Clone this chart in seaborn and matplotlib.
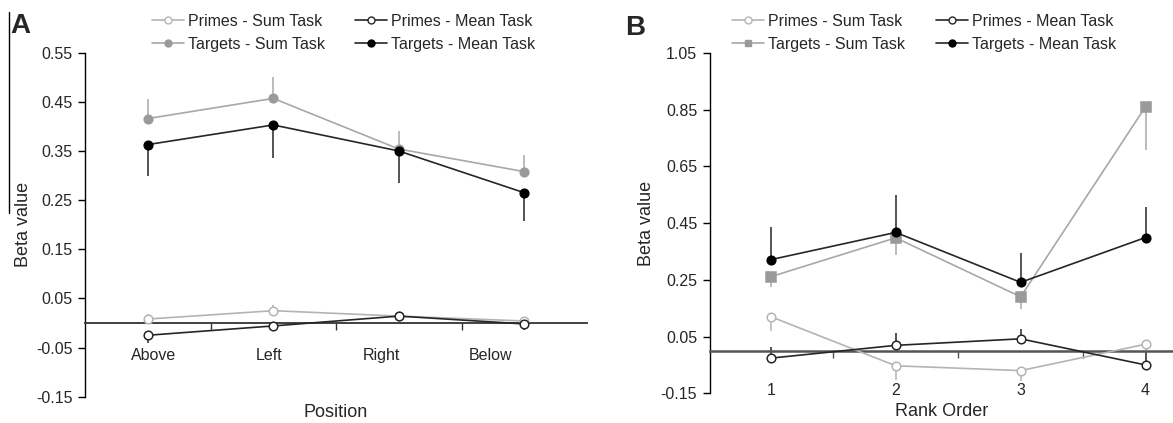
import matplotlib
matplotlib.use("Agg")
import matplotlib.pyplot as plt
import numpy as np
import seaborn as sns
from matplotlib.lines import Line2D

# panel A: beta values by position
positions = ["Above", "Left", "Right", "Below"]
a_primes_sum = [0.008, 0.025, 0.014, 0.004]
a_primes_sum_err = [0.010, 0.012, 0.004, 0.006]      # drawn upward
a_primes_mean = [-0.025, -0.006, 0.014, -0.002]
a_primes_mean_err = [0.016, 0.004, 0.004, 0.012]     # drawn downward
a_targets_sum = [0.416, 0.457, 0.354, 0.308]
a_targets_sum_err = [0.040, 0.044, 0.037, 0.033]     # drawn upward
a_targets_mean = [0.363, 0.403, 0.350, 0.265]
a_targets_mean_err = [0.064, 0.068, 0.065, 0.057]    # drawn downward

# panel B: beta values by rank order
ranks = ["1", "2", "3", "4"]
b_primes_sum = [0.120, -0.053, -0.070, 0.023]
b_primes_sum_err = [0.050, 0.050, 0.036, 0.020]      # drawn downward
b_primes_mean = [-0.026, 0.019, 0.042, -0.050]
b_primes_mean_err = [0.038, 0.042, 0.033, 0.050]     # drawn upward
b_targets_sum = [0.261, 0.398, 0.190, 0.860]
b_targets_sum_err = [0.038, 0.061, 0.043, 0.153]     # drawn downward
b_targets_mean = [0.321, 0.417, 0.241, 0.399]
b_targets_mean_err = [0.114, 0.132, 0.104, 0.108]    # drawn upward

a_yticks = [-0.15, -0.05, 0.05, 0.15, 0.25, 0.35, 0.45, 0.55]
b_yticks = [-0.15, 0.05, 0.25, 0.45, 0.65, 0.85, 1.05]

sns.set_style("ticks")
plt.rcParams["font.family"] = ["Liberation Sans", "DejaVu Sans"]
plt.rcParams["axes.unicode_minus"] = False

FS = 11.5
LIGHT = "#b4b4b4"
MID = "#9a9a9a"
DARK = "#262626"

fig = plt.figure(figsize=(11.73, 4.23), dpi=100)
ax_a = fig.add_axes([0.0725, 0.0622, 0.428, 0.8132])
ax_b = fig.add_axes([0.605, 0.0702, 0.395, 0.805])


def draw_series(ax, vals, err, up, name, line_c, edge_c, face_c, marker):
    x = np.arange(len(vals))
    ms = 6.5 if marker == "s" else 6.2
    sns.lineplot(x=x, y=vals, ax=ax, color=line_c, linewidth=1.2, marker=marker,
                 markersize=ms, markeredgecolor=edge_c, markerfacecolor=face_c,
                 markeredgewidth=1.1, zorder=3, legend=False)
    zeros = np.zeros(len(vals))
    yerr = [zeros, err] if up else [err, zeros]
    ax.errorbar(x, vals, yerr=yerr, fmt="none", ecolor=line_c, elinewidth=1.1,
                capsize=0, zorder=2)
    return Line2D([], [], color=line_c, lw=1.2, marker=marker, markersize=5,
                  markeredgecolor=edge_c, markerfacecolor=face_c, markeredgewidth=1.0,
                  label=name)


def style_axes(ax, cats, xlim, yticks, xlabel, label_x, label_y, zero_c, zero_w,
               xlabel_y, ylabel_x):
    n = len(cats)
    ax.set_xlim(*xlim)
    ax.set_ylim(yticks[0], yticks[-1])
    ax.set_yticks(yticks, labels=[f"{t:.2f}" for t in yticks], fontsize=FS)
    ax.tick_params(axis="y", direction="out", length=5, width=1, color="black", pad=4)
    for s in ["top", "right"]:
        ax.spines[s].set_visible(False)
    ax.spines["left"].set_color("black")
    ax.spines["left"].set_linewidth(1)
    ax.spines["bottom"].set_position(("data", 0))
    ax.spines["bottom"].set_color(zero_c)
    ax.spines["bottom"].set_linewidth(zero_w)
    ax.set_xticks(np.arange(n), labels=[""] * n)
    ax.set_xticks(np.arange(n - 1) + 0.5, minor=True)
    ax.tick_params(axis="x", which="major", length=0)
    ax.tick_params(axis="x", which="minor", direction="out", length=5, width=1, color=zero_c)
    for xi, lab in zip(label_x, cats):
        ax.text(xi, label_y, lab, ha="center", va="center", fontsize=FS)
    ax.set_xlabel(xlabel, fontsize=13)
    ax.xaxis.set_label_coords(0.5, xlabel_y)
    ax.set_ylabel("Beta value", fontsize=13)
    ax.yaxis.set_label_coords(ylabel_x, 0.5)


def add_legend(ax, handles, anchor):
    # column-wise fill: primes on the first row, targets on the second
    ax.legend(handles=[handles[0], handles[2], handles[1], handles[3]], ncol=2,
              loc="upper left", bbox_to_anchor=anchor, bbox_transform=fig.transFigure,
              frameon=False, fontsize=FS, handlelength=2.0, handletextpad=0.25,
              columnspacing=1.9, labelspacing=0.5, borderpad=0, borderaxespad=0)


# panel A
h = [
    draw_series(ax_a, a_primes_sum, a_primes_sum_err, True, "Primes - Sum Task", LIGHT, LIGHT, "white", "o"),
    draw_series(ax_a, a_primes_mean, a_primes_mean_err, False, "Primes - Mean Task", DARK, DARK, "white", "o"),
    draw_series(ax_a, a_targets_sum, a_targets_sum_err, True, "Targets - Sum Task", "#a8a8a8", MID, MID, "o"),
    draw_series(ax_a, a_targets_mean, a_targets_mean_err, False, "Targets - Mean Task", DARK, "black", "black", "o"),
]
style_axes(ax_a, positions, (-0.5, 3.5), a_yticks, "Position",
           [0.05, 0.97, 1.86, 2.73], -0.066, "#333333", 1.3, -0.02, -0.105)
add_legend(ax_a, h, (0.1296, 0.968))

# panel B
h = [
    draw_series(ax_b, b_primes_sum, b_primes_sum_err, False, "Primes - Sum Task", LIGHT, LIGHT, "white", "o"),
    draw_series(ax_b, b_primes_mean, b_primes_mean_err, True, "Primes - Mean Task", DARK, DARK, "white", "o"),
    draw_series(ax_b, b_targets_sum, b_targets_sum_err, False, "Targets - Sum Task", "#a8a8a8", MID, MID, "s"),
    draw_series(ax_b, b_targets_mean, b_targets_mean_err, True, "Targets - Mean Task", DARK, "black", "black", "o"),
]
style_axes(ax_b, ranks, (-0.49, 3.22), b_yticks, "Rank Order",
           np.arange(4), -0.141, "#555555", 1.8, -0.028, -0.117)
add_legend(ax_b, h, (0.6244, 0.968))

# panel letters and the stray crop line at the left edge
fig.text(0.0085, 0.922, "A", fontsize=20, fontweight="bold", va="baseline")
fig.text(0.533, 0.917, "B", fontsize=20, fontweight="bold", va="baseline")
fig.add_artist(Line2D([0.0077, 0.0077], [0.496, 0.972], color="black", lw=1,
                      transform=fig.transFigure))

fig.savefig("out.png", dpi=100)
